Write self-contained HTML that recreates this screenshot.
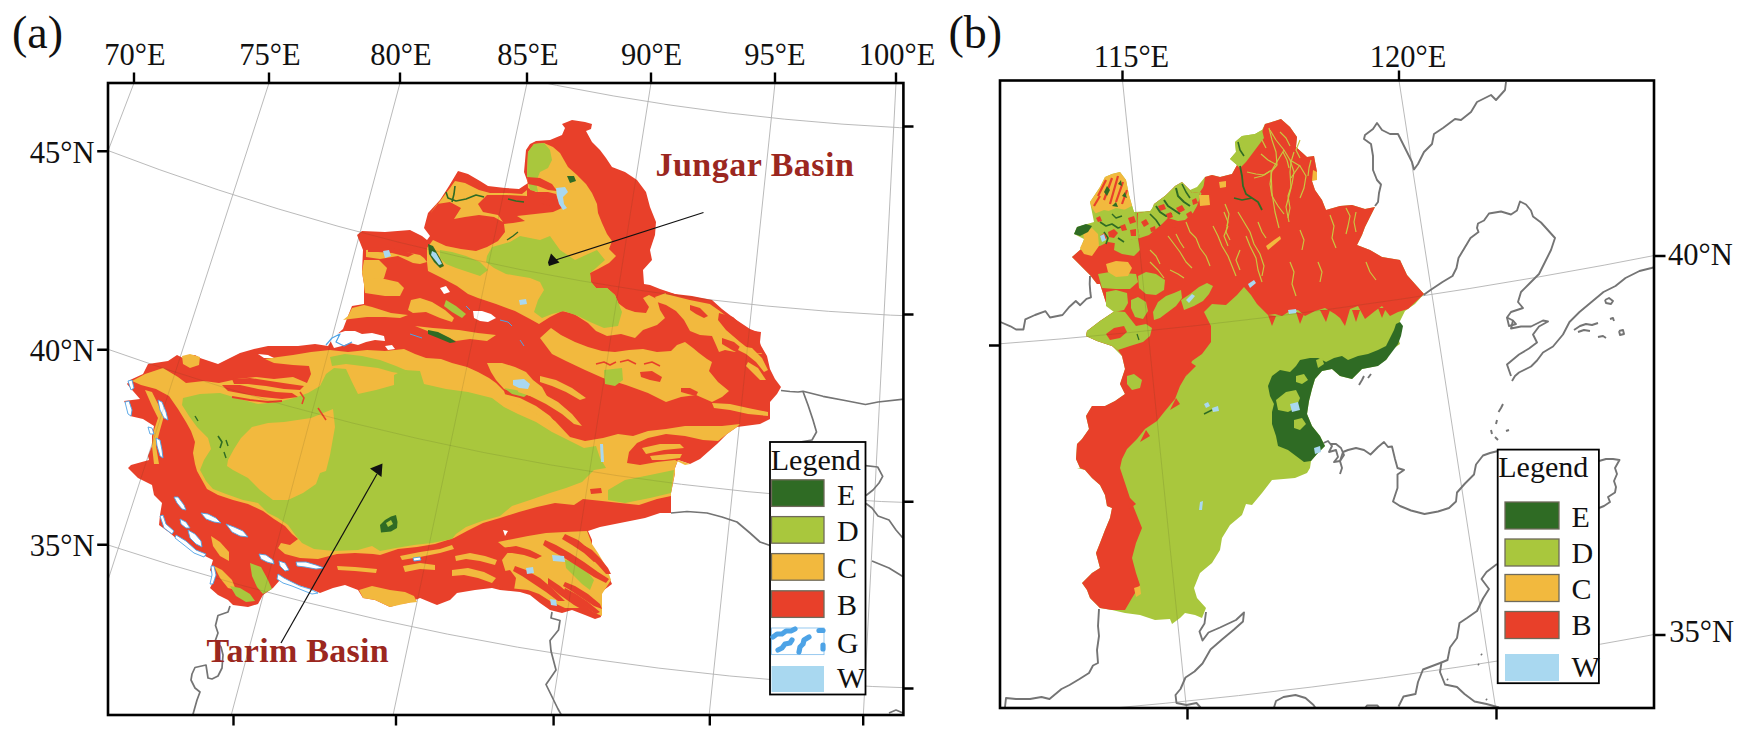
<!DOCTYPE html>
<html><head><meta charset="utf-8"><title>Figure</title>
<style>html,body{margin:0;padding:0;background:#fff;}body{width:1741px;height:736px;overflow:hidden;font-family:"Liberation Serif",serif;}svg{display:block;}</style></head>
<body>
<svg width="1741" height="736" viewBox="0 0 1741 736" font-family="'Liberation Serif', serif" fill="#111">
<defs><clipPath id="cl"><rect x="108" y="83" width="795.4" height="632"/></clipPath><clipPath id="cr"><rect x="1000" y="80.5" width="654" height="627.5"/></clipPath><clipPath id="mapL"><polygon points="357,235 362,231 385,232 410,230 422,236 427,240 430,236 424,228 428,213 440,200 449,186 458,171 468,174 480,181 488,186 505,188 519,189 528,183 524,172 526,150 530,144 536,141 550,140 562,135 565,128 562,124 572,120 585,122 592,124 591,129 586,131 592,142 600,150 606,158 612,167 625,172 637,180 646,192 650,207 656,222 655,235 650,250 652,260 643,270 644,284 650,285 660,289 675,294 692,296 712,300 722,309 735,319 750,329 760,333 760,344 767,356 770,369 775,379 781,387 777,394 770,402 770,419 760,424 737,427 727,434 717,444 700,459 690,464 678,460 675,468 675,473 671,493 671,513 660,513 645,518 625,522 600,527 588,531 592,540 592,550 600,563 607,573 612,584 600,593 593,600 600,608 601,617 595,619 585,615 572,610 562,613 550,610 540,603 530,595 520,592 500,590 492,588 475,590 457,593 450,600 437,605 432,603 420,598 408,603 400,604 390,607 375,600 363,598 358,590 345,585 333,588 320,593 313,590 298,585 288,583 280,580 273,588 263,595 258,604 248,607 233,605 228,600 218,595 210,588 215,578 210,570 213,560 203,555 190,548 178,540 170,533 159,525 160,515 162,503 154,495 152,485 138,478 128,468 131,465 149,460 148,456 152,446 152,436 154,426 143,419 130,416 129,409 124,401 140,399 133,391 127,384 130,380 143,374 148,364 168,361 177,355 183,358 195,355 200,358 218,364 230,358 240,353 254,349 268,346 280,346 298,346 315,344 328,346 333,338 343,329 348,316 352,306 364,304 364,284 362,272 363,250"/></clipPath><clipPath id="mapR"><polygon points="1090,202 1100,187 1105,177 1112,174 1120,172 1126,180 1129,195 1134,212 1150,211 1157,202 1170,192 1182,184 1190,190 1197,187 1205,177 1212,175 1220,177 1232,174 1237,165 1230,159 1236,152 1235,142 1242,136 1255,134 1262,130 1265,124 1275,121 1281,119 1290,127 1297,137 1296,147 1307,157 1314,156 1317,172 1312,181 1315,190 1322,200 1326,210 1340,206 1352,205 1365,209 1375,207 1370,217 1365,227 1362,235 1357,245 1370,250 1382,257 1400,260 1407,275 1415,284 1424,294 1415,304 1405,311 1400,321 1397,334 1400,344 1390,351 1387,359 1377,366 1362,369 1352,379 1340,376 1332,369 1322,371 1315,379 1312,389 1309,401 1307,414 1312,426 1320,436 1325,446 1317,454 1311,461 1310,468 1307,473 1295,478 1272,480 1262,493 1252,505 1246,504 1242,515 1230,525 1222,538 1220,550 1212,563 1200,573 1194,588 1197,598 1206,608 1202,618 1195,615 1185,613 1180,618 1172,624 1170,619 1155,620 1140,615 1125,613 1112,610 1100,608 1090,598 1087,590 1082,583 1092,573 1100,568 1096,553 1100,543 1105,530 1110,518 1112,508 1107,506 1105,495 1100,485 1092,478 1085,470 1077,468 1080,468 1076,459 1077,444 1082,439 1089,429 1086,416 1092,406 1105,406 1115,401 1125,394 1120,384 1125,369 1122,356 1112,346 1097,341 1086,336 1087,331 1100,321 1115,311 1107,306 1100,284 1097,284 1090,275 1080,265 1072,257 1080,250 1084,239 1074,234 1077,227 1094,222"/></clipPath></defs>
<rect width="1741" height="736" fill="#fff"/>
<g id="left">
<g clip-path="url(#cl)" fill="none" stroke="#b2b2b2" stroke-width="0.9" stroke-opacity="1">
<circle cx="1015" cy="-2220" r="2350.5"/>
<circle cx="1015" cy="-2220" r="2538.2"/>
<circle cx="1015" cy="-2220" r="2724.8"/>
<circle cx="1015" cy="-2220" r="2910"/>
<circle cx="1015" cy="-2220" r="3094"/>
<line x1="1015" y1="-2220" x2="-218.4" y2="1004.2"/>
<line x1="1015" y1="-2220" x2="-29.4" y2="1004.2"/>
<line x1="1015" y1="-2220" x2="154" y2="1004.2"/>
<line x1="1015" y1="-2220" x2="331.8" y2="1004.2"/>
<line x1="1015" y1="-2220" x2="505.4" y2="1004.2"/>
<line x1="1015" y1="-2220" x2="679" y2="1004.2"/>
<line x1="1015" y1="-2220" x2="848.4" y2="1004.2"/>
</g>
<g clip-path="url(#cl)">
<polyline points="781,390.5 790,391.5 798,392 803,391.3 823,396.3 845,400.5 865.5,404.5 878,402 905,399" fill="none" stroke="#747474" stroke-width="1.7" stroke-linejoin="round" />
<polyline points="803,391.5 808,405 813,420 816.5,432 812,440 800,442" fill="none" stroke="#747474" stroke-width="1.7" stroke-linejoin="round" />
<polyline points="865.5,465.7 877.7,467 882.7,476.3 879,483 873,490 866,495.5" fill="none" stroke="#747474" stroke-width="1.7" stroke-linejoin="round" />
<polyline points="866,503.5 872,508 878,516 889,520 896,530 902,537 906,540" fill="none" stroke="#747474" stroke-width="1.7" stroke-linejoin="round" />
<polyline points="872,561 889,568 902,576 906,578" fill="none" stroke="#747474" stroke-width="1.7" stroke-linejoin="round" />
<polyline points="671,513 687,511.5 707,513 722,517 737,522 750,533 760,542 770,545.5" fill="none" stroke="#747474" stroke-width="1.7" stroke-linejoin="round" />
<polyline points="552,612 551,618 560,620.5 558.5,630 550,640.5 551,651 556,670 546,684.5 558,709 562,716" fill="none" stroke="#747474" stroke-width="1.7" stroke-linejoin="round" />
<polyline points="230,606 228,612 218,615.5 215.5,625.5 218,633 215.5,640 221,647 223,655 222,668 218,676 212,679 208,678 206,665 195,667.5 192,674 191,680 195,688 200,692 197,700 192.5,716" fill="none" stroke="#747474" stroke-width="1.7" stroke-linejoin="round" />
<polyline points="889,713 896,710 903,713" fill="none" stroke="#747474" stroke-width="1.7" stroke-linejoin="round" />
<polygon points="357,235 362,231 385,232 410,230 422,236 427,240 430,236 424,228 428,213 440,200 449,186 458,171 468,174 480,181 488,186 505,188 519,189 528,183 524,172 526,150 530,144 536,141 550,140 562,135 565,128 562,124 572,120 585,122 592,124 591,129 586,131 592,142 600,150 606,158 612,167 625,172 637,180 646,192 650,207 656,222 655,235 650,250 652,260 643,270 644,284 650,285 660,289 675,294 692,296 712,300 722,309 735,319 750,329 760,333 760,344 767,356 770,369 775,379 781,387 777,394 770,402 770,419 760,424 737,427 727,434 717,444 700,459 690,464 678,460 675,468 675,473 671,493 671,513 660,513 645,518 625,522 600,527 588,531 592,540 592,550 600,563 607,573 612,584 600,593 593,600 600,608 601,617 595,619 585,615 572,610 562,613 550,610 540,603 530,595 520,592 500,590 492,588 475,590 457,593 450,600 437,605 432,603 420,598 408,603 400,604 390,607 375,600 363,598 358,590 345,585 333,588 320,593 313,590 298,585 288,583 280,580 273,588 263,595 258,604 248,607 233,605 228,600 218,595 210,588 215,578 210,570 213,560 203,555 190,548 178,540 170,533 159,525 160,515 162,503 154,495 152,485 138,478 128,468 131,465 149,460 148,456 152,446 152,436 154,426 143,419 130,416 129,409 124,401 140,399 133,391 127,384 130,380 143,374 148,364 168,361 177,355 183,358 195,355 200,358 218,364 230,358 240,353 254,349 268,346 280,346 298,346 315,344 328,346 333,338 343,329 348,316 352,306 364,304 364,284 362,272 363,250" fill="#E8402A" />
<polygon points="433,240 446,246 461,249 476,251 487,247 498,241 505,232 504,224 513,223 525,221 517,216 535,214 553,212 562,208 558,200 556,194 548,192 536,192 528,188 527,172 528,152 534,144 544,143 553,147 560,153 564,160 568,167 577,175 586,184 592,193 597,204 598,213 602,223 607,234 612,241 609,249 616,256 609,263 598,269 590,273 591,282 596,288 607,288 615,295 618,303 626,309 635,312 646,313 649,307 643,298 649,295 657,299 660,310 665,318 657,325 643,330 635,338 621,334 607,336 596,331 588,323 574,314 562,311 550,317 539,324 530,319 515,311 496,304 478,298 468,294 457,286 442,278 428,271 427,262 427,248" fill="#F2B93E" />
<polygon points="430,214 440,201 450,188 455,181 465,183 479,190 490,193 507,193 522,194 527,190 527,196 507,195 487,195 478,204 483,212 498,215 503,222 494,217 479,215 465,217 454,219 461,208 450,202 437,204" fill="#F2B93E" />
<polygon points="366,250 380,249 395,251 410,253 420,255 424,258 427,262 420,264 413,263 398,256 380,259 366,257" fill="#F2B93E" />
<polygon points="364,260 379,260 387,268 384,278 375,288 365,292 364,284 362,272" fill="#F2B93E" />
<polygon points="364,280 380,278 398,282 404,288 400,296 385,296 365,293" fill="#F2B93E" />
<polygon points="411,300 420,298 432,302 445,310 454,318 452,322 440,318 426,312 413,313 408,310" fill="#F2B93E" />
<polygon points="348,316 352,308 364,305 372,307 391,313 408,315 400,318 385,317 367,317 350,319 343,320" fill="#F2B93E" />
<polygon points="415,326 433,328 459,330 478,333 496,335 487,341 470,339 456,341 444,336 430,332" fill="#F2B93E" />
<polygon points="655,297 666,293 690,299 710,303 720,310 733,320 747,330 757,336 757,346 762,354 754,353 745,352 735,352 725,350 719,352 716,345 712,336 700,335 690,331 684,320 676,311 666,305 657,302" fill="#F2B93E" />
<polygon points="540,338 551,328 561,335 575,342 588,347 602,351 615,352 629,350 643,349 657,352 671,351 677,345 685,342 693,348 699,353 707,359 712,362 709,371 718,382 729,391 722,397 712,402 696,395 681,397 666,402 648,393 626,385 603,378 585,370 566,361 552,354" fill="#F2B93E" />
<polygon points="487,363 502,363 515,367 526,372 533,380 542,387 548,398 537,398 524,394 511,391 504,389 496,380 491,372" fill="#F2B93E" />
<polygon points="145,374 163,368 178,377 186,383 204,381 219,383 237,379 256,377 274,379 293,377 307,383 311,374 309,366 293,365 274,363 265,359 278,357 293,355 311,352 330,350 348,352 367,350 385,351 404,349 415,354 426,358 441,359 452,363 467,367 478,372 489,378 496,383 504,391 507,400 518,399 537,409 555,421 570,437 585,441 603,438 618,434 633,436 648,431 666,429 685,426 703,426 722,426 740,424 737,427 727,434 718,441 703,440 685,436 666,434 648,438 637,443 629,452 627,463 640,465 657,462 675,460 685,465 690,464 678,460 675,468 675,473 671,493 671,496 657,499 639,505 620,503 602,501 583,499 574,505 555,503 537,507 519,512 500,518 483,523 467,531 454,538 435,544 417,547 398,549 380,555 373,554 355,553 337,554 318,559 300,558 285,554 278,548 281,543 290,545 298,539 292,534 285,526 274,519 263,511 248,504 233,500 218,495 207,489 202,480 197,471 195,464 193,453 195,442 191,431 186,422 178,409 169,396 156,389 141,385 132,381" fill="#F2B93E" />
<polygon points="182,356 190,354 200,357 199,365 190,368 183,364" fill="#F2B93E" />
<polygon points="498,542 509,551 502,560 506,573 498,586 509,588 528,590 539,594 550,601 565,608 583,608 602,616 602,594 611,580 607,568 598,553 592,544 587,531 565,532 546,533 528,536" fill="#F2B93E" />
<polygon points="359,590 372,586 390,590 405,592 414,596 417,602 408,603 390,607 375,600 363,598" fill="#F2B93E" />
<polygon points="337,566 355,567 377,569 376,573 355,571 338,570" fill="#F2B93E" />
<polygon points="403,566 420,563 435,565 435,570 420,569 405,572" fill="#F2B93E" />
<polygon points="455,556 470,553 485,556 497,560 495,565 480,561 466,559 456,561" fill="#F2B93E" />
<polygon points="452,570 468,568 484,572 496,578 492,583 478,578 464,575 452,576" fill="#F2B93E" />
<polygon points="400,556 420,552 440,549 452,545 454,549 440,553 420,557 402,560" fill="#F2B93E" />
<polygon points="211,536 220,542 229,552 229,561 220,556 213,546" fill="#F2B93E" />
<polygon points="214,566 222,570 232,580 236,590 228,588 220,578" fill="#F2B93E" />
<polygon points="145,390 152,392 158,404 164,416 160,430 156,446 159,464 154,464 152,446 154,430 158,418 152,406" fill="#F2B93E" />
<polygon points="183,398 200,394 220,393 240,399 258,404 278,402 294,398 308,393 320,386 326,374 334,368 346,369 352,382 358,394 376,390 394,385 394,375 404,370 420,371 424,384 446,389 468,392 492,398 504,407 518,414 536,422 552,432 568,440 584,448 596,446 600,458 606,468 594,470 582,482 566,488 550,493 530,500 512,506 500,516 482,521 466,527 456,534 452,539 432,543 414,545 396,548 380,551 372,546 358,550 334,551 314,549 302,543 296,536 288,525 278,518 268,513 258,503 243,500 226,494 213,489 206,481 200,470 204,460 211,449 208,438 197,427 189,416 182,405" fill="#A9C73D" />
<polygon points="608,490 625,480 650,475 674,470 671,493 650,498 625,503 608,500" fill="#A9C73D" />
<polygon points="252,427 268,423 284,422 311,418 333,409 335,427 330,455 326,471 320,473 316,484 303,493 288,500 273,500 260,490 248,478 233,470 227,466 228,460 234,449 241,438" fill="#F2B93E" />
<polygon points="330,357 345,354 362,356 380,360 396,366 410,372 404,374 392,372 378,368 362,366 346,364 332,366" fill="#A9C73D" />
<polygon points="487,256 492,247 510,242 520,236 540,240 550,236 560,250 575,260 588,254 597,250 605,260 596,268 590,273 591,282 596,288 607,288 615,295 618,302 622,312 618,326 604,328 590,322 578,316 564,311 552,314 542,318 534,312 538,300 544,290 540,282 530,278 518,276 506,274 494,268 486,262" fill="#A9C73D" />
<polygon points="440,250 452,252 466,256 480,262 488,270 480,276 468,272 456,268 446,264 440,258" fill="#A9C73D" />
<polygon points="528,152 534,144 544,143 550,150 552,160 548,168 540,172 536,182 538,192 530,190 527,176" fill="#A9C73D" />
<polygon points="446,300 456,306 466,314 462,318 452,312 444,306" fill="#A9C73D" />
<polygon points="604,370 622,368 623,380 615,386 605,384" fill="#A9C73D" />
<polygon points="565,560 576,562 586,570 594,580 590,590 582,584 574,576 566,568" fill="#A9C73D" />
<polygon points="250,563 261,567 268,580 272,589 263,594 257,587 252,576" fill="#A9C73D" />
<polygon points="230,586 240,588 250,594 255,601 246,602 236,596" fill="#A9C73D" />
<polygon points="504,388 516,390 528,394 524,397 512,394" fill="#A9C73D" />
<polygon points="527,177 540,178 552,184 557,191 548,190 538,186 528,184" fill="#E8402A" />
<polygon points="540,198 552,200 560,206 550,206 540,203" fill="#E8402A" />
<polygon points="368,248 384,247 400,250 414,254 408,257 392,253 378,252 368,252" fill="#E8402A" />
<polygon points="640,372 652,371 662,377 660,382 650,380 641,377" fill="#E8402A" />
<polygon points="681,388 690,388 698,392 696,396 688,394 681,392" fill="#E8402A" />
<polyline points="596,364 604,362 610,365 616,362" fill="none" stroke="#E8402A" stroke-width="1.6" stroke-linejoin="round" />
<polyline points="620,362 628,360 636,364" fill="none" stroke="#E8402A" stroke-width="1.6" stroke-linejoin="round" />
<polyline points="644,364 652,362 660,366" fill="none" stroke="#E8402A" stroke-width="1.6" stroke-linejoin="round" />
<polygon points="719,313 733,317 747,330 761,332 760,342 762,353 754,353 740,342 726,330 718,320" fill="#E8402A" />
<polygon points="722,338 734,342 746,352 744,356 732,350 722,344" fill="#E8402A" />
<polygon points="690,305 700,308 708,316 704,318 696,314 690,310" fill="#E8402A" />
<polyline points="666,293 690,299 710,303 720,310 733,320 747,330 757,336" fill="none" stroke="#E8402A" stroke-width="2" stroke-linejoin="round" />
<polygon points="740,346 752,348 762,358 768,370 764,372 756,362 746,354 738,350" fill="#F2B93E" />
<polygon points="748,362 758,368 766,380 760,380 752,372 746,366" fill="#F2B93E" />
<polygon points="504,394 520,398 536,406 550,416 560,428 552,426 540,416 526,408 512,402 502,398" fill="#F2B93E" />
<polygon points="520,386 540,392 558,402 572,414 582,426 574,424 562,414 546,404 530,396 518,392" fill="#F2B93E" />
<polygon points="540,376 556,380 572,388 586,398 580,400 566,392 552,386 540,382" fill="#F2B93E" />
<polygon points="712,403 730,404 748,408 768,412 768,416 748,414 730,410 714,408" fill="#F2B93E" />
<polygon points="642,448 660,444 680,444 684,448 664,450 646,454" fill="#F2B93E" />
<polygon points="650,456 668,454 682,454 680,458 664,460 652,460" fill="#F2B93E" />
<polygon points="590,489 601,488 602,493 591,494" fill="#E8402A" />
<polygon points="545,540 556,545 570,553 584,562 598,572 609,579 606,583 594,577 580,568 566,559 552,551 543,545" fill="#E8402A" />
<polygon points="565,534 578,540 590,550 598,560 594,562 584,553 572,545 562,539" fill="#E8402A" />
<polygon points="515,566 526,570 540,578 552,588 565,601 558,601 546,592 534,584 522,576 513,571" fill="#E8402A" />
<polygon points="565,588 576,594 588,602 600,612 596,614 584,606 572,599 563,593" fill="#E8402A" />
<polygon points="502,548 516,546 530,550 542,556 536,559 524,555 512,553 503,553" fill="#E8402A" />
<polygon points="585,546 592,550 600,558 608,568 611,574 606,574 598,565 590,557 584,551" fill="#E8402A" />
<polygon points="565,582 575,586 588,594 600,604 602,609 594,606 582,598 570,590 563,586" fill="#E8402A" />
<polygon points="548,578 560,586 574,598 588,608 596,614 588,613 574,605 560,595 548,585" fill="#E8402A" />
<polygon points="500,572 510,570 516,578 514,590 504,590 498,586" fill="#E8402A" />
<polygon points="222,385 240,385 258,389 276,392 292,393 298,397 282,399 262,397 244,394 228,391" fill="#E8402A" />
<polyline points="232,397 250,400 268,402 282,401" fill="none" stroke="#E8402A" stroke-width="1.8" stroke-linejoin="round" />
<polygon points="232,379 250,378 270,381 290,384 304,386 300,390 284,389 266,386 248,384 234,384" fill="#E8402A" />
<polyline points="300,392 304,398 302,404" fill="none" stroke="#E8402A" stroke-width="1.5" stroke-linejoin="round" />
<polyline points="318,408 322,414 326,420" fill="none" stroke="#E8402A" stroke-width="1.5" stroke-linejoin="round" />
<polygon points="556,188 565,187 568,192 563,197 564,204 567,208 563,210 559,204 557,196" fill="#A9D8F0" />
<polygon points="383,251 389,250 391,256 385,258" fill="#A9D8F0" />
<polygon points="432,252 437,256 442,263 438,266 433,260" fill="#A9D8F0" />
<polygon points="513,380 524,379 530,384 528,389 519,388 513,385" fill="#A9D8F0" />
<polygon points="552,555 564,556 565,562 553,561" fill="#A9D8F0" />
<polygon points="526,568 533,567 534,573 527,574" fill="#A9D8F0" />
<polygon points="550,599 556,600 557,606 551,605" fill="#A9D8F0" />
<polygon points="600,444 603,444 604,462 601,462" fill="#A9D8F0" />
<polygon points="519,300 526,299 527,304 520,305" fill="#A9D8F0" />
<polygon points="428,244 433,246 440,258 444,266 440,268 434,262 429,254" fill="#2F6B24" />
<polygon points="380,525 385,520 391,516.5 396,515 397.5,522 397,528 391,531.5 381,532.5" fill="#2F6B24" />
<polygon points="386,523 391,520 393,524 388,527" fill="#A9C73D" />
<polygon points="428,330 438,332 450,338 456,342 450,343 438,338 428,334" fill="#2F6B24" />
<polyline points="446,192 448,198 456,201 466,199 476,195 484,197" fill="none" stroke="#2F6B24" stroke-width="1.6" stroke-linejoin="round" />
<polyline points="455,186 454,194 452,202" fill="none" stroke="#2F6B24" stroke-width="1.6" stroke-linejoin="round" />
<polyline points="508,199 516,201 524,202" fill="none" stroke="#2F6B24" stroke-width="1.4" stroke-linejoin="round" />
<polygon points="567,176 574,176 576,181 570,183" fill="#2F6B24" />
<polyline points="507,240 513,236 518,232" fill="none" stroke="#2F6B24" stroke-width="1.4" stroke-linejoin="round" />
<polyline points="195,416 198,421" fill="none" stroke="#2F6B24" stroke-width="1.4" stroke-linejoin="round" />
<polyline points="218,436 222,442 220,448" fill="none" stroke="#2F6B24" stroke-width="1.6" stroke-linejoin="round" />
<polyline points="226,440 228,446" fill="none" stroke="#2F6B24" stroke-width="1.4" stroke-linejoin="round" />
<polyline points="224,452 226,458" fill="none" stroke="#2F6B24" stroke-width="1.4" stroke-linejoin="round" />
<polygon points="432,251 436,253 440,260 442,264 439,265 435,260 431,255" fill="#A9D8F0" />
<polygon points="330,340 336,334 345,331 355,331 362,334 372,333 384,336 385,341 375,340 366,342 358,345 350,343 342,346 334,348" fill="#ffffff" />
<polygon points="473,311 482,311 491,314 496,318 488,322 480,321 474,318" fill="#ffffff" />
<polygon points="440,288 446,286 450,292 444,294" fill="#ffffff" />
<polygon points="258,354 268,355 274,358 264,358" fill="#ffffff" />
<polygon points="385,346 392,345 395,349 388,350" fill="#ffffff" />
<polyline points="326,345 332,338 340,334 336,342 344,346 352,342" fill="none" stroke="#4DA3E6" stroke-width="1.2" stroke-linejoin="round" />
<polyline points="410,334 416,336 422,338" fill="none" stroke="#4DA3E6" stroke-width="1.0" stroke-linejoin="round" />
<polyline points="500,320 508,322 512,326" fill="none" stroke="#4DA3E6" stroke-width="1.0" stroke-linejoin="round" />
<polyline points="520,340 524,346" fill="none" stroke="#4DA3E6" stroke-width="1.0" stroke-linejoin="round" />
<polyline points="466,306 470,310" fill="none" stroke="#4DA3E6" stroke-width="1.0" stroke-linejoin="round" />
<polygon points="174,497 178,497 184,505 186,510 182,509 177,503" fill="#fff" stroke="#4DA3E6" stroke-width="0.9"/>
<polygon points="201,513 208,514 216,518 221,523 214,522 206,519" fill="#fff" stroke="#4DA3E6" stroke-width="0.9"/>
<polygon points="226,524 234,527 243,531 248,537 240,536 232,532" fill="#fff" stroke="#4DA3E6" stroke-width="0.9"/>
<polygon points="180,519 186,522 190,528 186,528 181,524" fill="#fff" stroke="#4DA3E6" stroke-width="0.9"/>
<polygon points="188,530 195,534 201,541 202,547 196,544 190,538" fill="#fff" stroke="#4DA3E6" stroke-width="0.9"/>
<polygon points="259,554 266,555 273,560 274,564 267,562 261,559" fill="#fff" stroke="#4DA3E6" stroke-width="0.9"/>
<polygon points="279,561 285,563 289,570 285,571 280,566" fill="#fff" stroke="#4DA3E6" stroke-width="0.9"/>
<polygon points="296,562 306,562 316,565 324,568 316,569 305,567 297,566" fill="#fff" stroke="#4DA3E6" stroke-width="0.9"/>
<polygon points="278,574 284,578 292,582 300,586 310,589 318,593 312,594 302,590 292,586 283,583 277,579" fill="#fff" stroke="#4DA3E6" stroke-width="0.9"/>
<polygon points="160,516 163,515 166,524 174,531 172,534 164,528" fill="#fff" stroke="#4DA3E6" stroke-width="0.9"/>
<polygon points="176,535 186,541 196,550 206,554 204,557 194,553 184,545 175,538" fill="#fff" stroke="#4DA3E6" stroke-width="0.9"/>
<polygon points="211,566 214,566 216,575 213,584 210,584 212,575" fill="#fff" stroke="#4DA3E6" stroke-width="0.9"/>
<polygon points="128,381 132,380 134,388 131,390" fill="#fff" stroke="#4DA3E6" stroke-width="0.9"/>
<polygon points="125,402 129,401 132,410 131,416 128,414" fill="#fff" stroke="#4DA3E6" stroke-width="0.9"/>
<polygon points="158,400 162,402 166,412 168,420 164,418 160,410" fill="#fff" stroke="#4DA3E6" stroke-width="0.9"/>
<polygon points="156,438 160,440 162,450 163,458 160,456 157,446" fill="#fff" stroke="#4DA3E6" stroke-width="0.9"/>
<polygon points="148,427 152,428 154,434 150,434" fill="#fff" stroke="#4DA3E6" stroke-width="0.9"/>
<polygon points="503,530 508,531 505,536" fill="#ffffff" />
<polygon points="413,558 420,557 421,560 414,561" fill="#fff" stroke="#4DA3E6" stroke-width="0.9"/>
</g>
<g clip-path="url(#mapL)"><g clip-path="url(#cl)" fill="none" stroke="#3a3a20" stroke-width="0.7" stroke-opacity="0.18">
<circle cx="1015" cy="-2220" r="2350.5"/>
<circle cx="1015" cy="-2220" r="2538.2"/>
<circle cx="1015" cy="-2220" r="2724.8"/>
<circle cx="1015" cy="-2220" r="2910"/>
<circle cx="1015" cy="-2220" r="3094"/>
<line x1="1015" y1="-2220" x2="-218.4" y2="1004.2"/>
<line x1="1015" y1="-2220" x2="-29.4" y2="1004.2"/>
<line x1="1015" y1="-2220" x2="154" y2="1004.2"/>
<line x1="1015" y1="-2220" x2="331.8" y2="1004.2"/>
<line x1="1015" y1="-2220" x2="505.4" y2="1004.2"/>
<line x1="1015" y1="-2220" x2="679" y2="1004.2"/>
<line x1="1015" y1="-2220" x2="848.4" y2="1004.2"/>
</g></g>
<rect x="108" y="83" width="795.4" height="632" fill="none" stroke="#000" stroke-width="2.6"/>
<path d="M134 72.5V83 M269 72.5V83 M400 72.5V83 M527 72.5V83 M651 72.5V83 M775 72.5V83 M896 72.5V83 M233.5 715V725.4 M396 715V725.4 M553.6 715V725.4 M709.8 715V725.4 M863.2 715V725.4 M97.2 151.2H108 M97.2 349.7H108 M97.2 544.8H108 M903.4 126.5H913.5 M903.4 314.5H913.5 M903.4 501.8H913.5 M903.4 688.5H913.5" stroke="#000" stroke-width="2.4" fill="none"/>
<text x="135" y="65" font-size="30.5" text-anchor="middle" >70°E</text>
<text x="270" y="65" font-size="30.5" text-anchor="middle" >75°E</text>
<text x="401" y="65" font-size="30.5" text-anchor="middle" >80°E</text>
<text x="528" y="65" font-size="30.5" text-anchor="middle" >85°E</text>
<text x="651.6" y="65" font-size="30.5" text-anchor="middle" >90°E</text>
<text x="775" y="65" font-size="30.5" text-anchor="middle" >95°E</text>
<text x="897" y="65" font-size="30.5" text-anchor="middle" >100°E</text>
<text x="94.6" y="162.7" font-size="30.5" text-anchor="end" >45°N</text>
<text x="94.6" y="361.2" font-size="30.5" text-anchor="end" >40°N</text>
<text x="94.6" y="556.3" font-size="30.5" text-anchor="end" >35°N</text>
<text x="12" y="48" font-size="46" text-anchor="start" >(a)</text>
<text x="655.4" y="175.8" font-size="34" text-anchor="start" font-weight="bold" fill="#9B2720" letter-spacing="0.5">Jungar Basin</text>
<text x="206.6" y="662.2" font-size="34" text-anchor="start" font-weight="bold" fill="#9B2720" letter-spacing="0.3">Tarim Basin</text>
<path d="M703.5 212.5L554 260.5" stroke="#111" stroke-width="1.2" fill="none"/>
<polygon points="548,262.5 551,253.5 559.5,262.5 549,266" fill="#111"/>
<path d="M281 643L377 474" stroke="#111" stroke-width="1.2" fill="none"/>
<polygon points="382.5,463.5 381.5,477 370,468.5" fill="#111"/>
<rect x="770" y="442" width="95.5" height="252.5" fill="#fff" stroke="#000" stroke-width="1.8"/>
<text x="770.8" y="469.9" font-size="30" text-anchor="start" >Legend</text>
<rect x="771.5" y="479.8" width="52.5" height="26.6" fill="#2F6B24" stroke="#6f6a5a" stroke-width="1.3"/>
<rect x="771.5" y="516.6" width="52.5" height="26.6" fill="#A9C73D" stroke="#6f6a5a" stroke-width="1.3"/>
<rect x="771.5" y="553.6" width="52.5" height="26.6" fill="#F2B93E" stroke="#6f6a5a" stroke-width="1.3"/>
<rect x="771.5" y="590.8" width="52.5" height="26.6" fill="#E8402A" stroke="#6f6a5a" stroke-width="1.3"/>
<rect x="771.5" y="628" width="52.5" height="26.6" fill="#fff" stroke="#8cc4ee" stroke-width="0.9"/>
<g fill="none" stroke="#4DA3E6" stroke-width="5.2" stroke-linecap="round" stroke-linejoin="round"><path d="M773 637 l4 -3 5 0 4 -3 5 0 4 -2"/><path d="M778 650 l4 -2 3 -4 5 -1 2 -3"/><path d="M799 652 l1 -5 3 -3 1 -4 5 -3"/><path d="M819 630.5 l4 0"/><path d="M823 645 l0 4"/></g>
<rect x="771.5" y="666" width="52.5" height="26" fill="#A9D8F0"/>
<text x="837" y="505" font-size="30" text-anchor="start" >E</text>
<text x="837" y="540.5" font-size="30" text-anchor="start" >D</text>
<text x="837" y="578" font-size="30" text-anchor="start" >C</text>
<text x="837" y="615" font-size="30" text-anchor="start" >B</text>
<text x="837" y="652.5" font-size="30" text-anchor="start" >G</text>
<text x="837" y="688" font-size="30" text-anchor="start" >W</text>
</g>
<g id="right">
<g clip-path="url(#cr)" fill="none" stroke="#b2b2b2" stroke-width="0.9" stroke-opacity="1">
<circle cx="582" cy="-5225" r="5584.5"/>
<circle cx="582" cy="-5225" r="5956.9"/>
<line x1="582" y1="-5225" x2="1338.7" y2="2202.7"/>
<line x1="582" y1="-5225" x2="1725.8" y2="2202.7"/>
</g>
<g clip-path="url(#cr)">
<polyline points="1000.4,322 1010.5,326.3 1016,329.5 1023.4,329.5 1025.3,319.4 1035,315 1045.5,311.2 1050,317.5 1062.5,315 1069.5,306.7 1075.8,301 1080.2,305.2 1086.5,298.8 1091,297.3 1090.3,292.2 1089.7,284 1090,276" fill="none" stroke="#747474" stroke-width="1.9" stroke-linejoin="round" />
<polyline points="1506,82 1505,90 1496,100 1491,95 1477,102 1471,112 1461,120 1455,119 1443,128 1434,134 1432,144 1424,152 1418,164 1414,169.5 1412,162 1406,150 1398,134 1390,134 1382,130 1377,123 1373,129 1365,135 1364,139 1371,144 1373,156 1373,170 1377,180 1381,184.5 1379,193 1378,202 1375,206" fill="none" stroke="#747474" stroke-width="1.9" stroke-linejoin="round" />
<polyline points="1423.5,295 1430.5,290 1442.5,282 1452.5,276 1456.5,268 1458.5,258 1464.5,248 1470.5,238 1478.5,232 1477,228 1478,223.5 1484,220.5 1489,213.5 1501,211.5 1511,214.5 1517,210.5 1520,201.5 1526,204.5 1531,210.5 1533,216.5 1541,222.5 1546,228 1555,238 1551,250 1545,262 1539,274 1529,284 1521,292 1518,302 1523,308 1511,312 1507,317.5 1513,320.5 1511,328.5 1521,326.5 1531,326.5 1543,320.5 1548,321.5 1539,326.5 1533,334.5 1537,342.5 1529,348.5 1519,354.5 1507,364.5 1511,376" fill="none" stroke="#747474" stroke-width="1.9" stroke-linejoin="round" />
<polyline points="1507,317.5 1509,326 1516,324 1513,320.5" fill="none" stroke="#747474" stroke-width="1.9" stroke-linejoin="round" />
<polyline points="1655,267 1651.5,268 1639.5,271 1625.5,278 1615.5,286 1603.5,292 1591.5,302 1579.5,312 1569.5,322 1563,334.5 1553,346.5 1543,352.5 1537,360.5 1531,366.5 1519,372.5 1515,376 1512,381" fill="none" stroke="#747474" stroke-width="1.9" stroke-linejoin="round" />
<polyline points="1605,300 1609,298 1613,301 1611,304 1606,303 1605,300" fill="none" stroke="#747474" stroke-width="1.9" stroke-linejoin="round" />
<polyline points="1574,330 1580,326 1586,324 1592,325 1598,323" fill="none" stroke="#747474" stroke-width="1.9" stroke-linejoin="round" />
<polyline points="1578,332 1584,330 1590,331" fill="none" stroke="#747474" stroke-width="1.9" stroke-linejoin="round" />
<polyline points="1619,331 1623,330 1624,334 1620,335 1619,331" fill="none" stroke="#747474" stroke-width="1.9" stroke-linejoin="round" />
<polyline points="1598,337 1603,336 1606,338" fill="none" stroke="#747474" stroke-width="1.9" stroke-linejoin="round" />
<polyline points="1610,319 1613,318 1614,321" fill="none" stroke="#747474" stroke-width="1.9" stroke-linejoin="round" />
<polyline points="1323.5,443 1328,441 1332,446 1329,452 1336,450 1338,457 1334,462 1340,461 1342,468 1340,474" fill="none" stroke="#747474" stroke-width="1.9" stroke-linejoin="round" />
<polyline points="1330,444 1336,444 1341,448 1344,455 1340,461" fill="none" stroke="#747474" stroke-width="1.9" stroke-linejoin="round" />
<polyline points="1340,461 1343,452 1348,450 1356,448 1364,450 1370.5,454.5 1378,447 1384,442 1388,447 1392,446.5 1395,459 1397.5,468 1404,470 1397.5,474.5 1397.5,488 1393,501.5 1400,506 1411,510.5 1424.5,514 1438,511.5 1449,508 1456,501.5 1457,492.5 1465,483.5 1474,474.5 1476,464.5 1483,455.5 1490,453 1498,451" fill="none" stroke="#747474" stroke-width="1.9" stroke-linejoin="round" />
<polyline points="1503,404 1501,408 1498.5,412" fill="none" stroke="#747474" stroke-width="1.9" stroke-linejoin="round" />
<polyline points="1497,420 1496,424" fill="none" stroke="#747474" stroke-width="1.9" stroke-linejoin="round" />
<polyline points="1491,430 1492,434" fill="none" stroke="#747474" stroke-width="1.9" stroke-linejoin="round" />
<polyline points="1495,437 1498,440" fill="none" stroke="#747474" stroke-width="1.9" stroke-linejoin="round" />
<polyline points="1506,431 1509,430" fill="none" stroke="#747474" stroke-width="1.9" stroke-linejoin="round" />
<polyline points="1359,385 1362,380 1364,376" fill="none" stroke="#747474" stroke-width="1.9" stroke-linejoin="round" />
<polyline points="1368,378 1371,374" fill="none" stroke="#747474" stroke-width="1.9" stroke-linejoin="round" />
<polyline points="1599,461 1606,459 1613,459 1619.5,460 1615,468 1617,474 1614,481 1616,487 1615,492.5 1608,497 1610,502 1604,506 1599,508" fill="none" stroke="#747474" stroke-width="1.9" stroke-linejoin="round" />
<polyline points="1497,564 1486.5,572 1481.5,579 1489,589 1483,598.5 1477,611 1467,618 1459.5,623 1457,638 1450,647.5 1447.5,660 1441.5,662.5 1440,672 1445,684.5 1457,687 1464.5,694 1474.5,701.5 1486.5,704 1499,707.5" fill="none" stroke="#747474" stroke-width="1.9" stroke-linejoin="round" />
<polyline points="1441.5,662.5 1423,669.5 1418,682 1415.5,694 1403.5,696.5 1398.5,706.5" fill="none" stroke="#747474" stroke-width="1.9" stroke-linejoin="round" />
<polyline points="1365.5,707.5 1367,705.5 1377.5,705.5 1379,707.5" fill="none" stroke="#747474" stroke-width="1.9" stroke-linejoin="round" />
<polyline points="1099,609 1098,626 1099,636 1097,650 1098,663 1093,665.5 1089,673 1079.5,679 1069.5,685 1061.5,689 1049.5,699 1041.5,697 1030,699 1016,699 1006,698 1005,707" fill="none" stroke="#747474" stroke-width="1.9" stroke-linejoin="round" />
<polyline points="1206,612 1204.5,623.5 1199.5,631.5 1202.5,640.5 1208.5,632.5 1220,627.5 1236,620 1244,612.5 1243,621.5 1234,629.5 1222,639.5 1210.5,649.5 1202.5,663.5 1194.5,671.5 1185.5,677.5 1180.5,689 1175.5,695 1176.5,703 1186.5,705 1196.5,703 1200.5,707.5" fill="none" stroke="#747474" stroke-width="1.9" stroke-linejoin="round" />
<polyline points="1274,707.5 1276,701 1283.5,697 1295.5,695 1305.5,698 1313.5,705 1315.5,708" fill="none" stroke="#747474" stroke-width="1.9" stroke-linejoin="round" />
<polyline points="1481,654 1482,655" fill="none" stroke="#747474" stroke-width="1.9" stroke-linejoin="round" />
<polyline points="1478,664 1479,665" fill="none" stroke="#747474" stroke-width="1.9" stroke-linejoin="round" />
<polyline points="1447,679 1448,680" fill="none" stroke="#747474" stroke-width="1.9" stroke-linejoin="round" />
<polyline points="1486,699 1487,700" fill="none" stroke="#747474" stroke-width="1.9" stroke-linejoin="round" />
<polygon points="1090,202 1100,187 1105,177 1112,174 1120,172 1126,180 1129,195 1134,212 1150,211 1157,202 1170,192 1182,184 1190,190 1197,187 1205,177 1212,175 1220,177 1232,174 1237,165 1230,159 1236,152 1235,142 1242,136 1255,134 1262,130 1265,124 1275,121 1281,119 1290,127 1297,137 1296,147 1307,157 1314,156 1317,172 1312,181 1315,190 1322,200 1326,210 1340,206 1352,205 1365,209 1375,207 1370,217 1365,227 1362,235 1357,245 1370,250 1382,257 1400,260 1407,275 1415,284 1424,294 1415,304 1405,311 1400,321 1397,334 1400,344 1390,351 1387,359 1377,366 1362,369 1352,379 1340,376 1332,369 1322,371 1315,379 1312,389 1309,401 1307,414 1312,426 1320,436 1325,446 1317,454 1311,461 1310,468 1307,473 1295,478 1272,480 1262,493 1252,505 1246,504 1242,515 1230,525 1222,538 1220,550 1212,563 1200,573 1194,588 1197,598 1206,608 1202,618 1195,615 1185,613 1180,618 1172,624 1170,619 1155,620 1140,615 1125,613 1112,610 1100,608 1090,598 1087,590 1082,583 1092,573 1100,568 1096,553 1100,543 1105,530 1110,518 1112,508 1107,506 1105,495 1100,485 1092,478 1085,470 1077,468 1080,468 1076,459 1077,444 1082,439 1089,429 1086,416 1092,406 1105,406 1115,401 1125,394 1120,384 1125,369 1122,356 1112,346 1097,341 1086,336 1087,331 1100,321 1115,311 1107,306 1100,284 1097,284 1090,275 1080,265 1072,257 1080,250 1084,239 1074,234 1077,227 1094,222" fill="#A9C73D" />
<polygon points="1137,213 1152,211 1154,204 1165,196 1175,186 1182,182 1189,189 1192,193 1199,192 1200,197 1203,190 1205,177 1212,175 1220,177 1232,174 1237,165 1240,168 1243,158 1250,150 1256,142 1262,132 1265,124 1275,121 1281,119 1290,127 1297,137 1296,147 1307,157 1314,156 1317,172 1312,181 1315,190 1322,200 1326,210 1340,206 1352,205 1365,209 1375,207 1370,217 1365,227 1362,235 1357,245 1370,250 1382,257 1400,260 1407,275 1415,284 1424,294 1408,309 1398,312 1390,316 1382,306 1375,311 1365,319 1358,306 1350,309 1345,326 1340,318 1335,314 1325,308 1315,311 1305,316 1298,310 1290,311 1282,316 1275,314 1268,315 1257,304 1251,295 1244,287 1237,295 1226,305 1212,304 1204,312 1211,326 1211,342 1202,354 1192,361 1187,374 1180,386 1175,399 1165,411 1157,421 1145,429 1137,439 1127,449 1122,459 1120,468 1125,483 1130,498 1136,513 1142,528 1136,543 1132,558 1136,573 1140,585 1132,598 1125,610 1112,610 1100,608 1090,598 1087,590 1082,583 1092,573 1100,568 1096,553 1100,543 1105,530 1110,518 1112,508 1107,506 1105,495 1100,485 1092,478 1085,470 1080,468 1076,459 1077,444 1082,439 1089,429 1086,416 1092,406 1105,406 1115,401 1125,394 1120,384 1125,369 1122,356 1118,350 1112,346 1097,341 1086,336 1087,331 1100,321 1115,311 1107,306 1100,284 1097,284 1090,275 1080,265 1072,257 1080,250 1088,248 1094,246 1100,246 1108,242 1120,244 1130,240 1140,238 1138,229" fill="#E8402A" />
<polygon points="1138,213 1151,211 1154,204 1165,196 1175,186 1182,182 1189,189 1192,193 1199,192 1200,197 1197,206 1193,213 1185,220 1178,221 1168,218 1162,224 1156,229 1149,235 1140,238 1138,229" fill="#A9C73D" />
<polygon points="1098,274 1110,272 1124,273 1136,274 1138,282 1130,289 1116,289 1102,288" fill="#A9C73D" />
<polygon points="1106,292 1116,290 1127,293 1128,303 1124,310 1114,312 1106,306" fill="#A9C73D" />
<polygon points="1131,300 1138,297 1146,302 1148,311 1143,319 1135,317 1131,308" fill="#A9C73D" />
<polygon points="1138,276 1146,272 1156,274 1165,280 1164,290 1156,295 1146,294 1139,288" fill="#A9C73D" />
<polygon points="1153,312 1158,302 1166,296 1174,293 1181,290 1182,298 1176,306 1168,312 1160,318 1154,320" fill="#A9C73D" />
<polygon points="1181,300 1190,294 1199,287 1207,283 1213,286 1209,294 1203,301 1194,306 1184,310" fill="#A9C73D" />
<polygon points="1087,331 1100,321 1115,311 1125,312 1136,326 1146,324 1152,328 1150,336 1143,342 1130,346 1118,350 1112,346 1097,341 1086,336" fill="#A9C73D" />
<polygon points="1106,334 1114,328 1124,326 1127,332 1120,338 1110,340" fill="#E8402A" />
<polygon points="1115,242 1128,240 1138,238 1140,250 1134,256 1122,254 1114,250" fill="#A9C73D" />
<polygon points="1127,376 1134,374 1142,380 1140,388 1132,390 1127,384" fill="#A9C73D" />
<polygon points="1236,152 1235,142 1242,136 1255,134 1262,130 1264,138 1258,146 1252,154 1246,162 1240,168 1237,165 1230,159" fill="#A9C73D" />
<polygon points="1090,202 1100,187 1105,177 1112,174 1120,172 1126,180 1129,195 1132,206 1126,210 1116,208 1106,212 1096,214 1092,208" fill="#F2B93E" />
<polyline points="1098,196 1106,180" fill="none" stroke="#E8402A" stroke-width="2.2" stroke-linejoin="round" />
<polyline points="1104,200 1112,178" fill="none" stroke="#E8402A" stroke-width="2.2" stroke-linejoin="round" />
<polyline points="1110,204 1118,176" fill="none" stroke="#E8402A" stroke-width="2.2" stroke-linejoin="round" />
<polyline points="1116,202 1123,182" fill="none" stroke="#E8402A" stroke-width="2.2" stroke-linejoin="round" />
<polyline points="1122,204 1127,190" fill="none" stroke="#E8402A" stroke-width="2.2" stroke-linejoin="round" />
<polyline points="1094,206 1100,196" fill="none" stroke="#E8402A" stroke-width="2.2" stroke-linejoin="round" />
<polygon points="1094,214 1104,210 1114,212 1124,210 1132,206 1134,212 1126,218 1112,220 1100,220" fill="#A9C73D" />
<polygon points="1083,232 1092,228 1098,234 1099,246 1092,256 1084,254 1080,248 1084,240" fill="#F2B93E" />
<polygon points="1106,264 1116,261 1128,262 1132,268 1128,276 1116,277 1108,272" fill="#F2B93E" />
<polygon points="1199,195 1209,195 1210,205 1200,206" fill="#F2B93E" />
<polygon points="1219,182 1226,181 1226,187 1220,188" fill="#F2B93E" />
<polygon points="1313,170 1317,172 1317,180 1312,181" fill="#F2B93E" />
<polygon points="1266,246 1274,240 1280,236 1281,239 1274,245 1268,250" fill="#F2B93E" />
<polygon points="1134,588 1140,586 1141,594 1136,597" fill="#F2B93E" />
<polygon points="1108,232 1114,229 1118,233 1114,238 1109,237" fill="#E8402A" />
<polygon points="1128,218 1134,216 1136,222 1130,224" fill="#E8402A" />
<polygon points="1130,230 1136,229 1136,236 1131,236" fill="#E8402A" />
<polygon points="1158,206 1164,204 1166,209 1160,211" fill="#E8402A" />
<polygon points="1176,208 1182,205 1185,210 1179,213" fill="#E8402A" />
<polygon points="1200,192 1204,186 1208,190 1204,195" fill="#E8402A" />
<polygon points="1074,234 1077,227 1086,224 1092,226 1088,232 1080,236" fill="#2F6B24" />
<polyline points="1100,222 1106,226 1112,224 1118,228 1124,226" fill="none" stroke="#2F6B24" stroke-width="1.6" stroke-linejoin="round" />
<polyline points="1104,232 1108,238 1106,244" fill="none" stroke="#2F6B24" stroke-width="1.6" stroke-linejoin="round" />
<polyline points="1118,238 1124,242" fill="none" stroke="#2F6B24" stroke-width="1.6" stroke-linejoin="round" />
<polyline points="1112,214 1116,218 1122,216" fill="none" stroke="#2F6B24" stroke-width="1.4" stroke-linejoin="round" />
<polyline points="1156,206 1160,212 1166,216 1172,214" fill="none" stroke="#2F6B24" stroke-width="2.0" stroke-linejoin="round" />
<polyline points="1164,200 1168,206 1174,210 1180,214" fill="none" stroke="#2F6B24" stroke-width="2.0" stroke-linejoin="round" />
<polyline points="1176,188 1178,196 1184,202 1190,206" fill="none" stroke="#2F6B24" stroke-width="2.0" stroke-linejoin="round" />
<polyline points="1182,184 1186,192 1190,198" fill="none" stroke="#2F6B24" stroke-width="1.6" stroke-linejoin="round" />
<polyline points="1150,214 1156,220 1160,226" fill="none" stroke="#2F6B24" stroke-width="1.6" stroke-linejoin="round" />
<polygon points="1141,222 1146,219 1149,224 1144,227" fill="#E8402A" />
<polygon points="1150,228 1155,226 1156,231 1151,232" fill="#E8402A" />
<polygon points="1166,214 1171,212 1173,217 1168,219" fill="#E8402A" />
<polygon points="1186,214 1191,211 1194,216 1188,218" fill="#E8402A" />
<polygon points="1170,224 1176,222 1178,227 1172,228" fill="#E8402A" />
<polygon points="1192,200 1196,198 1198,203 1193,205" fill="#E8402A" />
<polygon points="1100,236 1104,233 1107,238 1103,241" fill="#E8402A" />
<polygon points="1120,226 1125,224 1127,230 1122,231" fill="#E8402A" />
<polygon points="1096,218 1100,216 1102,221 1098,222" fill="#E8402A" />
<polygon points="1104,192 1107,186 1110,190 1107,196" fill="#2F6B24" />
<polygon points="1112,206 1116,202 1118,207" fill="#2F6B24" />
<polygon points="1122,196 1125,192 1127,198" fill="#2F6B24" />
<polygon points="1118,184 1121,180 1122,186" fill="#2F6B24" />
<polygon points="1400,322 1403,326 1401,336 1398,344 1392,352 1386,360 1378,366 1362,369 1352,379 1340,376 1332,369 1322,371 1315,379 1312,389 1309,401 1307,414 1312,426 1320,436 1325,446 1317,454 1311,461 1304,462 1296,456 1288,450 1278,446 1276,436 1272,424 1272,412 1274,404 1270,396 1268,386 1272,376 1280,370 1290,372 1296,366 1300,360 1310,358 1318,358 1326,362 1334,358 1342,356 1348,360 1358,356 1368,354 1378,350 1386,346 1390,338 1394,330 1396,324" fill="#2F6B24" />
<polygon points="1286,392 1296,390 1300,398 1296,408 1288,412 1278,410 1276,400" fill="#A9C73D" />
<polygon points="1296,376 1304,374 1308,380 1302,384 1296,382" fill="#A9C73D" />
<polygon points="1294,420 1302,418 1306,424 1300,430 1294,428" fill="#A9C73D" />
<polygon points="1316,360 1322,358 1324,364 1318,368" fill="#A9C73D" />
<polygon points="1290,404 1298,402 1300,410 1292,412" fill="#A9D8F0" />
<polygon points="1314,448 1320,446 1321,452 1315,454" fill="#A9D8F0" />
<polygon points="1186,300 1192,294 1195,296 1189,303" fill="#A9D8F0" />
<polygon points="1204,404 1208,402 1210,406 1206,408" fill="#A9D8F0" />
<polygon points="1212,408 1218,406 1219,411 1213,412" fill="#A9D8F0" />
<polygon points="1200,502 1203,501 1202,510 1199,510" fill="#A9D8F0" />
<polygon points="1288,310 1296,309 1297,313 1289,314" fill="#A9D8F0" />
<polygon points="1100,236 1104,234 1106,240 1102,242" fill="#A9D8F0" />
<polygon points="1248,284 1254,280 1256,283 1250,288" fill="#A9D8F0" />
<polyline points="1204,414 1212,410" fill="none" stroke="#2F6B24" stroke-width="1.4" stroke-linejoin="round" />
<polyline points="1240,166 1242,176 1243,186 1246,194 1252,198 1258,202 1262,210" fill="none" stroke="#2F6B24" stroke-width="1.8" stroke-linejoin="round" />
<polyline points="1234,198 1242,200 1252,198" fill="none" stroke="#2F6B24" stroke-width="1.6" stroke-linejoin="round" />
<polyline points="1238,142 1240,150 1244,156" fill="none" stroke="#2F6B24" stroke-width="1.6" stroke-linejoin="round" />
<polyline points="1137,334 1139,340" fill="none" stroke="#2F6B24" stroke-width="1.2" stroke-linejoin="round" />
<polyline points="1270,130 1276,140 1284,150 1290,160 1294,172 1292,184" fill="none" stroke="#C9C640" stroke-width="1.2" stroke-linejoin="round" />
<polyline points="1284,150 1278,160 1272,170 1262,176 1254,178" fill="none" stroke="#C9C640" stroke-width="1.2" stroke-linejoin="round" />
<polyline points="1290,160 1300,166 1306,176 1304,188 1300,198" fill="none" stroke="#C9C640" stroke-width="1.2" stroke-linejoin="round" />
<polyline points="1272,170 1270,184 1272,196 1278,206 1284,214" fill="none" stroke="#C9C640" stroke-width="1.2" stroke-linejoin="round" />
<polyline points="1292,184 1288,196 1290,208 1288,218" fill="none" stroke="#C9C640" stroke-width="1.2" stroke-linejoin="round" />
<polyline points="1224,212 1228,222 1226,232 1230,240" fill="none" stroke="#C9C640" stroke-width="1.2" stroke-linejoin="round" />
<polyline points="1238,212 1244,222 1250,232 1254,244 1260,254 1264,266 1262,276" fill="none" stroke="#C9C640" stroke-width="1.2" stroke-linejoin="round" />
<polyline points="1258,222 1262,232 1266,238" fill="none" stroke="#C9C640" stroke-width="1.2" stroke-linejoin="round" />
<polyline points="1168,236 1174,244 1180,252 1186,262 1192,268" fill="none" stroke="#C9C640" stroke-width="1.2" stroke-linejoin="round" />
<polyline points="1176,234 1180,242 1184,248" fill="none" stroke="#C9C640" stroke-width="1.2" stroke-linejoin="round" />
<polyline points="1346,208 1350,216 1348,226 1346,234" fill="none" stroke="#C9C640" stroke-width="1.2" stroke-linejoin="round" />
<polyline points="1150,250 1156,256 1160,264" fill="none" stroke="#C9C640" stroke-width="1.2" stroke-linejoin="round" />
<polyline points="1170,270 1178,274 1184,278" fill="none" stroke="#C9C640" stroke-width="1.2" stroke-linejoin="round" />
<polyline points="1300,140 1296,150 1300,158" fill="none" stroke="#C9C640" stroke-width="1.2" stroke-linejoin="round" />
<polyline points="1225,204 1229,214 1227,226" fill="none" stroke="#C9C640" stroke-width="1.2" stroke-linejoin="round" />
<polyline points="1228,226 1224,236 1228,246" fill="none" stroke="#C9C640" stroke-width="1.2" stroke-linejoin="round" />
<polyline points="1269,128 1272,140 1276,152 1277,165 1271,172 1272,193 1275,212 1279,228" fill="none" stroke="#C9C640" stroke-width="1.2" stroke-linejoin="round" />
<polyline points="1261,154 1268,160 1277,165" fill="none" stroke="#C9C640" stroke-width="1.2" stroke-linejoin="round" />
<polyline points="1247,172 1256,174 1264,175 1270,171" fill="none" stroke="#C9C640" stroke-width="1.2" stroke-linejoin="round" />
<polyline points="1294,152 1291,162 1290,172 1291,188 1286,207 1289,222" fill="none" stroke="#C9C640" stroke-width="1.2" stroke-linejoin="round" />
<polyline points="1300,165 1295,172 1291,178" fill="none" stroke="#C9C640" stroke-width="1.2" stroke-linejoin="round" />
<polyline points="1283,152 1287,160 1289,168" fill="none" stroke="#C9C640" stroke-width="1.2" stroke-linejoin="round" />
<polyline points="1311,160 1309,168 1308,176" fill="none" stroke="#C9C640" stroke-width="1.2" stroke-linejoin="round" />
<polyline points="1280,132 1286,138 1290,146" fill="none" stroke="#C9C640" stroke-width="1.2" stroke-linejoin="round" />
<polyline points="1262,140 1266,148" fill="none" stroke="#C9C640" stroke-width="1.2" stroke-linejoin="round" />
<polyline points="1213,226 1218,236 1222,246 1228,256 1232,266 1236,276" fill="none" stroke="#C9C640" stroke-width="1.2" stroke-linejoin="round" />
<polyline points="1196,238 1200,248 1206,256 1210,266" fill="none" stroke="#C9C640" stroke-width="1.2" stroke-linejoin="round" />
<polyline points="1246,236 1250,246 1256,258 1258,270 1262,282" fill="none" stroke="#C9C640" stroke-width="1.2" stroke-linejoin="round" />
<polyline points="1300,230 1304,240 1302,250" fill="none" stroke="#C9C640" stroke-width="1.2" stroke-linejoin="round" />
<polyline points="1330,215 1334,226 1332,238 1336,248" fill="none" stroke="#C9C640" stroke-width="1.2" stroke-linejoin="round" />
<polyline points="1356,212 1354,222 1356,232" fill="none" stroke="#C9C640" stroke-width="1.2" stroke-linejoin="round" />
<polyline points="1150,262 1158,270 1164,278" fill="none" stroke="#C9C640" stroke-width="1.2" stroke-linejoin="round" />
<polyline points="1186,222 1190,232 1196,238" fill="none" stroke="#C9C640" stroke-width="1.2" stroke-linejoin="round" />
<polyline points="1240,250 1236,260 1240,270" fill="none" stroke="#C9C640" stroke-width="1.2" stroke-linejoin="round" />
<polyline points="1318,262 1322,272 1320,282" fill="none" stroke="#C9C640" stroke-width="1.2" stroke-linejoin="round" />
<polyline points="1366,262 1370,272 1376,280" fill="none" stroke="#C9C640" stroke-width="1.2" stroke-linejoin="round" />
<polyline points="1290,262 1294,272 1292,284 1296,296" fill="none" stroke="#C9C640" stroke-width="1.2" stroke-linejoin="round" />
<polygon points="1268,315 1272,326 1276,316" fill="#E8402A" />
<polygon points="1296,312 1300,324 1304,314" fill="#E8402A" />
<polygon points="1320,310 1326,322 1330,310" fill="#E8402A" />
<polygon points="1352,310 1356,322 1360,310" fill="#E8402A" />
<polygon points="1378,308 1382,318 1386,308" fill="#E8402A" />
<polygon points="1190,362 1186,376 1196,366" fill="#E8402A" />
<polygon points="1176,398 1170,410 1180,404" fill="#E8402A" />
<polygon points="1146,430 1140,442 1150,436" fill="#E8402A" />
<polygon points="1130,498 1128,510 1136,504" fill="#E8402A" />
</g>
<g clip-path="url(#mapR)"><g clip-path="url(#cr)" fill="none" stroke="#3a3a20" stroke-width="0.7" stroke-opacity="0.2">
<circle cx="582" cy="-5225" r="5584.5"/>
<circle cx="582" cy="-5225" r="5956.9"/>
<line x1="582" y1="-5225" x2="1338.7" y2="2202.7"/>
<line x1="582" y1="-5225" x2="1725.8" y2="2202.7"/>
</g></g>
<rect x="1000" y="80.5" width="654" height="627.5" fill="none" stroke="#000" stroke-width="2.6"/>
<path d="M1122.5 70.5V80.5 M1399 70.5V80.5 M1187.5 708V719.5 M1496.5 708V719.5 M989 345.5H1000 M1654 256H1665.5 M1654 635H1665.5" stroke="#000" stroke-width="2.4" fill="none"/>
<text x="1131.5" y="67" font-size="30.5" text-anchor="middle" >115°E</text>
<text x="1408" y="67" font-size="30.5" text-anchor="middle" >120°E</text>
<text x="1668" y="265" font-size="30.5" text-anchor="start" >40°N</text>
<text x="1669.3" y="642" font-size="30.5" text-anchor="start" >35°N</text>
<text x="948.5" y="48" font-size="46" text-anchor="start" >(b)</text>
<rect x="1497.7" y="449.6" width="101.2" height="233.6" fill="#fff" stroke="#000" stroke-width="1.8"/>
<text x="1498.3" y="477.3" font-size="30" text-anchor="start" >Legend</text>
<rect x="1505" y="502" width="54" height="27" fill="#2F6B24" stroke="#6f6a5a" stroke-width="1.3"/>
<rect x="1505" y="539" width="54" height="27" fill="#A9C73D" stroke="#6f6a5a" stroke-width="1.3"/>
<rect x="1505" y="574.5" width="54" height="27" fill="#F2B93E" stroke="#6f6a5a" stroke-width="1.3"/>
<rect x="1505" y="611.5" width="54" height="27" fill="#E8402A" stroke="#6f6a5a" stroke-width="1.3"/>
<rect x="1505" y="654" width="54" height="27" fill="#A9D8F0"/>
<text x="1571.5" y="527.2" font-size="30" text-anchor="start" >E</text>
<text x="1571.5" y="563" font-size="30" text-anchor="start" >D</text>
<text x="1571.5" y="599" font-size="30" text-anchor="start" >C</text>
<text x="1571.5" y="635" font-size="30" text-anchor="start" >B</text>
<text x="1571.5" y="676.5" font-size="30" text-anchor="start" >W</text>
</g>
</svg>
</body></html>
